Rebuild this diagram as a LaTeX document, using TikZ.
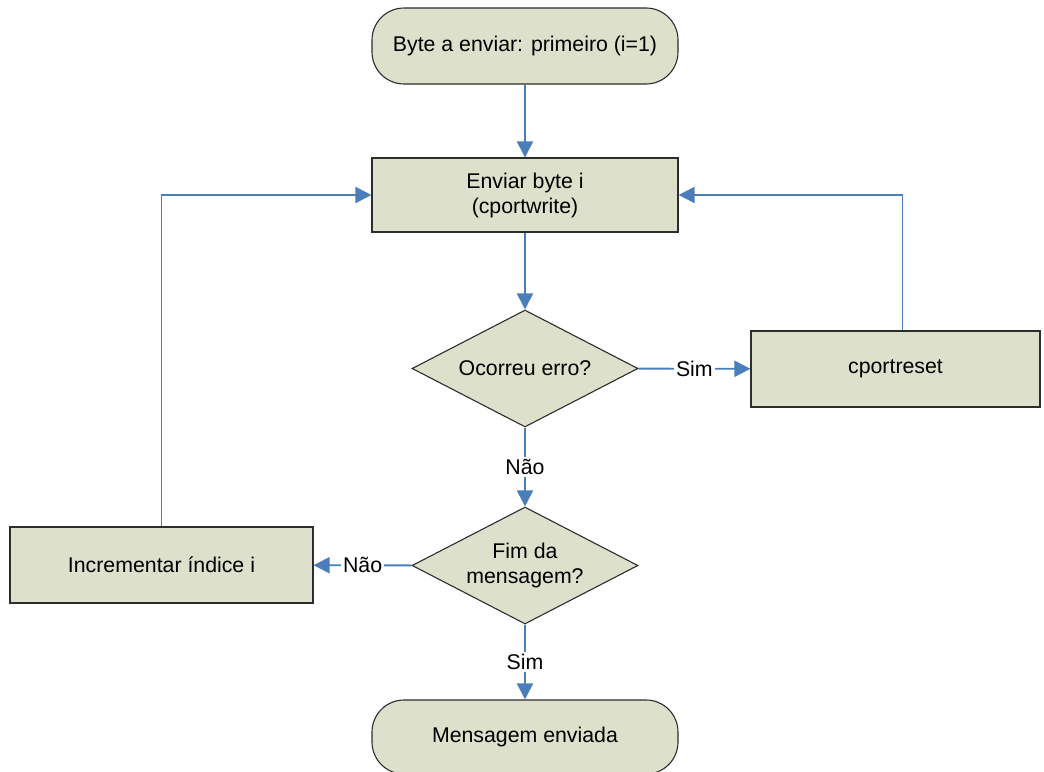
\documentclass[tikz,border=0pt]{standalone}
\usepackage{fontspec}
\setmainfont{Liberation Sans}
\usetikzlibrary{shapes.geometric,arrows.meta}
\definecolor{fundo}{RGB}{221,224,203}
\definecolor{azul}{RGB}{74,126,187}
\definecolor{borda}{RGB}{45,45,45}

\begin{document}
\begin{tikzpicture}[x=1pt,y=-1pt,
        seta/.style={draw=azul,line width=1.9pt,-{Triangle[length=16pt,width=16pt]}},
        rotulo/.style={fill=white,inner sep=2pt}]
        \useasboundingbox (0,0) rectangle (1044,771);
        \begin{scope}[every node/.style={draw=borda,fill=fundo,line width=1.1pt,
                        inner sep=0pt,align=center,
                        font=\fontsize{21.3}{25}\selectfont}]
            \node (inicio) at (525,46) [rectangle,rounded corners=32pt,minimum width=306pt,minimum height=76pt]{Byte a enviar: primeiro (i=1)};
            \node (enviar) at (525,195) [rectangle,minimum width=306pt,minimum height=74pt]{Enviar byte i\\(cportwrite)};
            \node (erro) at (525,368.5) [diamond,shape aspect=1.93,minimum width=226pt,minimum height=117pt]{Ocorreu erro?};
            \node (reset) at (895.5,369) [rectangle,minimum width=289pt,minimum height=76pt]{cportreset};
            \node (fim) at (525,565.5) [diamond,shape aspect=1.93,minimum width=226pt,minimum height=117pt]{Fim da\\mensagem?};
            \node (incr) at (161.5,565) [rectangle,minimum width=303pt,minimum height=76pt]{Incrementar índice i};
            \node (final) at (525,737) [rectangle,rounded corners=32pt,minimum width=306pt,minimum height=74pt]{Mensagem enviada};
        \end{scope}

        \begin{scope}[every node/.style={rotulo,font=\fontsize{21.3}{25}\selectfont}]
            \draw[seta] (inicio) -- (enviar);
            \draw[seta] (enviar.south) -- (erro.north);
            \draw[seta] (erro) -- node {Sim} (reset);
            \draw[seta] ([xshift=7pt]reset.north) |- (enviar.east);
            \draw[seta] (erro) -- node {Não} (fim);
            \draw[seta] (fim) -- node {Não} (incr);
            \draw[seta] (incr.north) |- (enviar.west);
            \draw[seta] (fim) -- node {Sim} (final);
        \end{scope}
    \end{tikzpicture}
\end{document}
